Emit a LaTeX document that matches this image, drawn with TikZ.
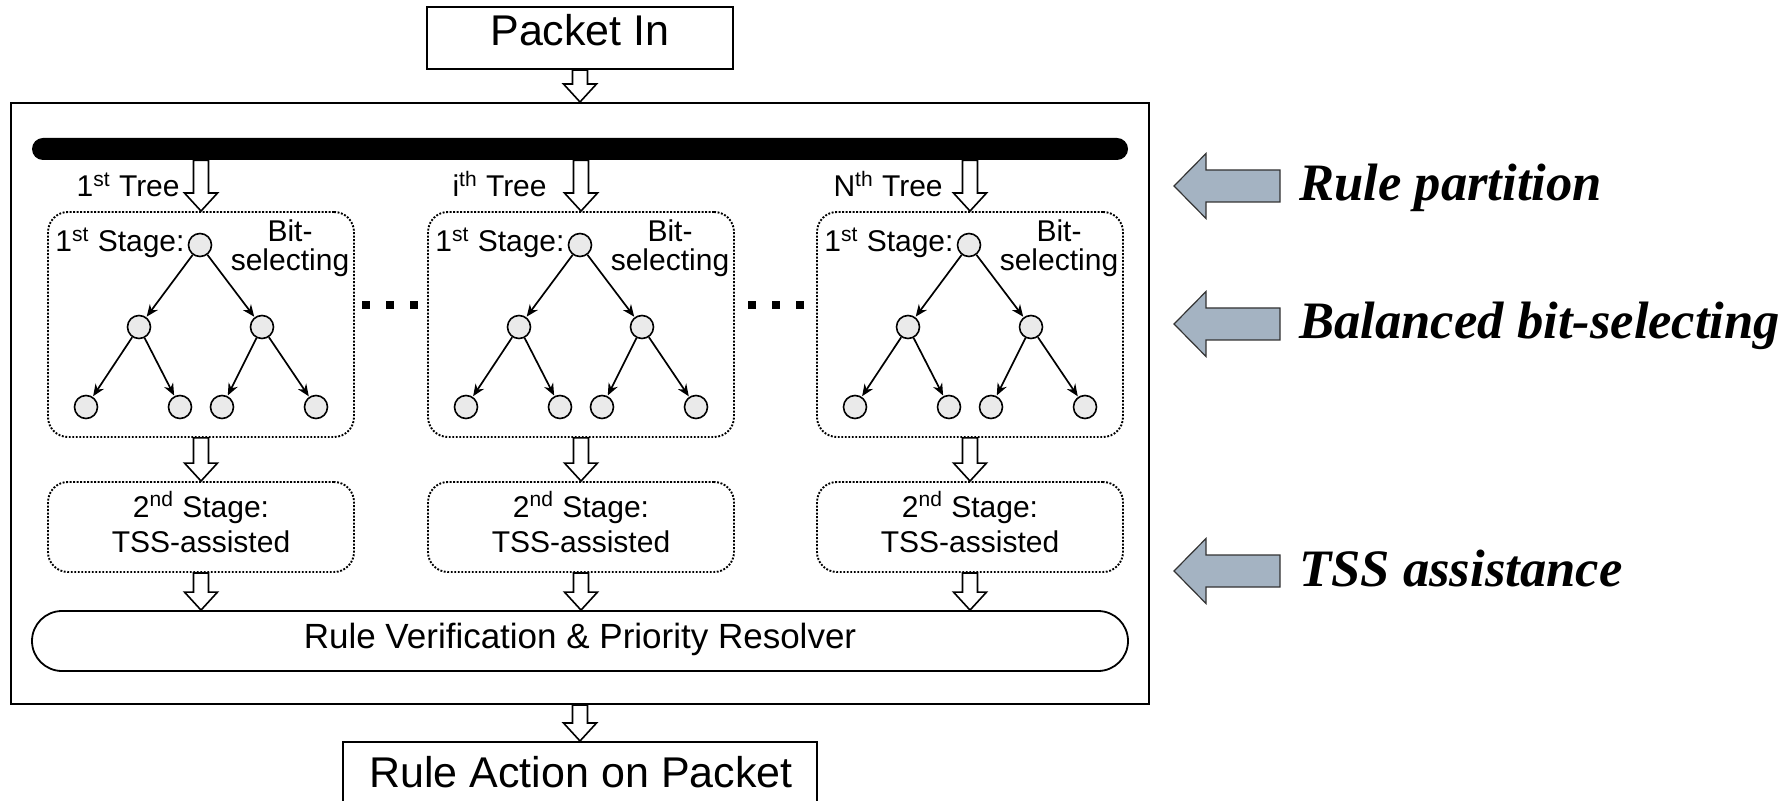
\documentclass[tikz,border=0pt]{standalone}
\usepackage{fontspec}
\setmainfont{Liberation Sans}
\newfontfamily\tnrfont{Liberation Serif}
\usetikzlibrary{calc,arrows.meta}
\definecolor{arrgray}{HTML}{A4B3C2}
\definecolor{nodegray}{HTML}{EAEAEA}
\newcommand\hollowarr[2]{\draw[harr] let \p1=(#1), \p2=(#2) in
  (\x1-3.75pt,\y1) -- (\x1-3.75pt,\y2+9pt) -- (\x1-8.25pt,\y2+9pt) -- (\x1,\y2)
  -- (\x1+8.25pt,\y2+9pt) -- (\x1+3.75pt,\y2+9pt) -- (\x1+3.75pt,\y1) -- cycle;}
\tikzset{
  harr/.style={draw, fill=white, line width=0.8pt, line join=miter},
  plainbox/.style={draw, line width=1pt, inner sep=0pt},
  dotbox/.style={draw, line width=0.95pt, dash pattern=on 0.95pt off 0.8pt, rounded corners=10pt, minimum width=153pt, inner sep=0pt},
  tnode/.style={circle, draw, fill=nodegray, line width=0.8pt, minimum size=11.5pt, inner sep=0pt},
  tedge/.style={-{Stealth[length=6pt,width=5pt]}, line width=0.85pt, shorten >=0.3pt},
  smalltxt/.style={font=\fontsize{15}{18}\selectfont, inner sep=0pt},
  bigtxt/.style={font=\fontsize{21.5}{25}\selectfont, inner sep=0pt},
  annot/.style={font=\fontsize{26.3}{30}\selectfont\tnrfont\bfseries\itshape, inner sep=0pt},
  garr/.style={draw=black!80, fill=arrgray, line width=0.6pt, line join=miter},
  sqdot/.style={fill=black, minimum size=3.7pt, inner sep=0pt}
}
\begin{document}
\begin{tikzpicture}[x=0.5pt,y=-0.5pt]
\clip (0,0) rectangle (1791,801);
\fill[white] (0,0) rectangle (1791,801);
% outer frame and bus bar
\node[plainbox, minimum width=569pt, minimum height=300.5pt] (outer) at (580,403.5) {};
\node[fill=black, rounded corners=5.5pt, minimum width=548pt, minimum height=11pt, inner sep=0pt] (bar) at (580,149) {};
% top and bottom boxes
\node[plainbox, minimum width=153pt, minimum height=31pt, bigtxt, text height=0.72em, text depth=0pt] (pin) at (580,38) {Packet In};
\node[plainbox, minimum width=237pt, minimum height=44pt] (rab) at (580,786) {};
\node[bigtxt, anchor=base] (rabt) at (581,787) {Rule Action on Packet};
% resolver
\node[draw, line width=0.9pt, rounded corners=15pt, minimum width=548pt, minimum height=30pt, inner sep=0pt,
      font=\fontsize{17.5}{20}\selectfont, text height=0.72em, text depth=0pt] (res) at (580,641)
      {Rule Verification \& Priority Resolver};
% tree labels
\node[smalltxt, anchor=base east] (tr1) at (180,197) {1\textsuperscript{st} Tree};
\node[smalltxt, anchor=base east] (tr2) at (547,197) {i\textsuperscript{th} Tree};
\node[smalltxt, anchor=base east] (tr3) at (943,197) {N\textsuperscript{th} Tree};
% columns
\foreach \i/\L in {1/48,2/428,3/817}{
  \node[dotbox, minimum height=112.5pt] (t\i) at (\L+153,324.5) {};
  \node[dotbox, minimum height=45pt] (s\i) at (\L+153,527) {};
  \node[smalltxt, anchor=base] (sa\i) at (\L+153,517) {2\textsuperscript{nd} Stage:};
  \node[smalltxt, anchor=base] (sb\i) at (\L+153,552) {TSS-assisted};
  \node[smalltxt, anchor=base west] (st\i) at (\L+7,252) {1\textsuperscript{st} Stage:};
  \node[smalltxt, anchor=base] (bit\i) at (\L+242,242) {Bit-};
  \node[smalltxt, anchor=base] (sel\i) at (\L+242,271) {selecting};
  \node[tnode] (r\i) at (\L+152,245) {};
  \node[tnode] (a\i) at (\L+91,327) {};
  \node[tnode] (b\i) at (\L+214,327) {};
  \node[tnode] (c\i) at (\L+38,407) {};
  \node[tnode] (d\i) at (\L+132,407) {};
  \node[tnode] (e\i) at (\L+174,407) {};
  \node[tnode] (f\i) at (\L+268,407) {};
  \draw[tedge] (r\i) -- (a\i);
  \draw[tedge] (r\i) -- (b\i);
  \draw[tedge] (a\i) -- (c\i);
  \draw[tedge] (a\i) -- (d\i);
  \draw[tedge] (b\i) -- (e\i);
  \draw[tedge] (b\i) -- (f\i);
  \hollowarr{bar.south -| t\i.north}{t\i.north}
  \hollowarr{t\i.south}{s\i.north}
  \hollowarr{s\i.south}{s\i.south |- res.north}
}
\hollowarr{pin.south}{pin.south |- outer.north}
\hollowarr{outer.south -| rab.north}{rab.north}
% ellipsis dots
\foreach \k/\x in {1/366,2/390,3/414,4/752,5/776,6/800}{
  \node[sqdot] (dot\k) at (\x,305) {};
}
% right-hand annotations
\foreach \c/\t [count=\k] in {186/Rule partition, 324/Balanced bit-selecting, 571/TSS assistance}{
  \draw[garr] (1174,\c) -- (1206,\c-32.5) -- (1206,\c-16) -- (1280,\c-16) -- (1280,\c+16)
     -- (1206,\c+16) -- (1206,\c+32.5) -- cycle;
  \node[annot, anchor=base west] (lab\k) at (1299,\c+15) {\t};
}
\end{tikzpicture}
\end{document}
